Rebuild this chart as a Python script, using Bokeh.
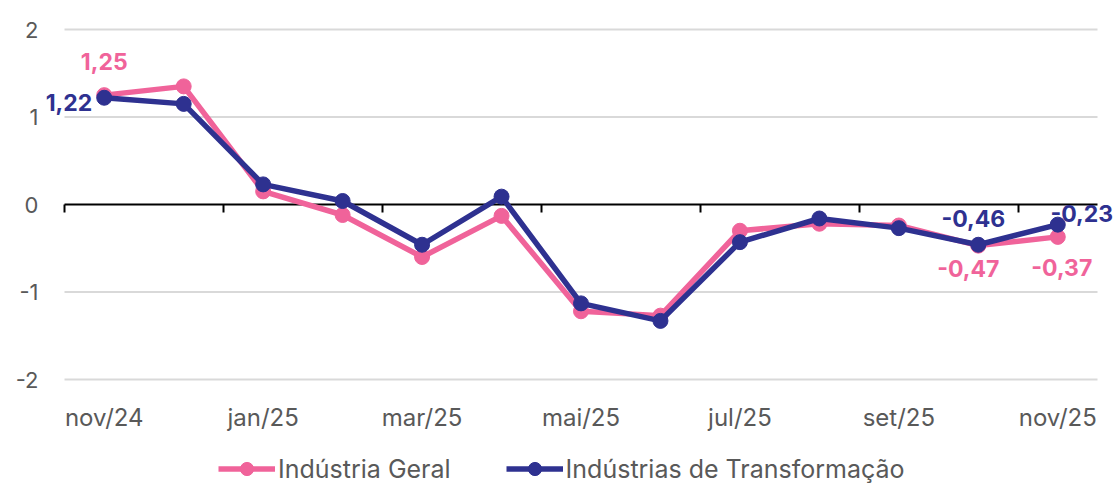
from bokeh.plotting import figure
from bokeh.models import (Range1d, FixedTicker, LinearAxis, Label, Legend, LegendItem)
from bokeh.core.properties import value
from bokeh.embed import file_html
from bokeh.resources import INLINE

months = ["nov/24", "dez/24", "jan/25", "fev/25", "mar/25", "abr/25", "mai/25",
          "jun/25", "jul/25", "ago/25", "set/25", "out/25", "nov/25"]
geral = [1.25, 1.35, 0.15, -0.12, -0.60, -0.13, -1.22, -1.27, -0.30, -0.22, -0.24, -0.47, -0.37]
transf = [1.22, 1.15, 0.23, 0.04, -0.46, 0.09, -1.13, -1.33, -0.43, -0.16, -0.27, -0.46, -0.23]
y_ticks = [-2, -1, 0, 1, 2]
label_idx = [0, 11, 12]

PINK = "#F0639A"
BLUE = "#2E3190"
GRAY = "#595959"
FONT = "Inter"

n = len(months)
xs = [i + 0.5 for i in range(n)]

# frame covers the whole canvas; ranges padded so the category area sits like the reference
x_px = 1033 / n
y_px = 87.5
p = figure(width=1116, height=486,
           x_range=Range1d(-64 / x_px, n + 19 / x_px),
           y_range=Range1d(y_ticks[0] - 107 / y_px, y_ticks[-1] + 29 / y_px),
           output_backend="svg", toolbar_location=None,
           x_axis_location=None, y_axis_location=None,
           min_border=0, min_border_left=0, min_border_right=0,
           min_border_top=0, min_border_bottom=0)
p.outline_line_color = None
p.background_fill_color = "white"
p.border_fill_color = "white"
p.grid.visible = False

# horizontal grid lines across the category area
grid_y = [t for t in y_ticks if t != 0]
p.segment(x0=0, x1=n, y0=grid_y, y1=grid_y, line_color="#D9D9D9", line_width=2, level="underlay")

# y tick labels
p.text(x=0, y=y_ticks, text=[str(t) for t in y_ticks], x_offset=-26,
       text_align="right", text_baseline="middle", text_font=value(FONT),
       text_font_size="22px", text_color=GRAY)

# x axis labels (every other month)
xaxis = LinearAxis(fixed_location=y_ticks[0], ticker=FixedTicker(ticks=[xs[i] for i in range(0, n, 2)]),
                   major_label_overrides={xs[i]: months[i] for i in range(0, n, 2)},
                   axis_line_color=None, major_tick_line_color=None, minor_tick_line_color=None,
                   major_tick_out=0, major_tick_in=0,
                   major_label_text_font=FONT, major_label_text_font_size="24px",
                   major_label_text_color=GRAY, major_label_standoff=23)
p.add_layout(xaxis, "below")

# zero axis with ticks at category boundaries
zero_axis = LinearAxis(fixed_location=0, bounds=(0, n),
                       ticker=FixedTicker(ticks=list(range(0, n, 2))),
                       axis_line_color="black", axis_line_width=2,
                       major_tick_line_color="black", major_tick_line_width=2,
                       major_tick_in=0, major_tick_out=8,
                       minor_tick_line_color=None,
                       major_label_text_color=None, level="underlay")
p.add_layout(zero_axis, "below")

l1 = p.line(xs, geral, line_color=PINK, line_width=5.5)
s1 = p.scatter(xs, geral, size=15, fill_color=PINK, line_color=PINK)
l2 = p.line(xs, transf, line_color=BLUE, line_width=5.5)
s2 = p.scatter(xs, transf, size=15, fill_color=BLUE, line_color=BLUE)

def fmt(v):
    return f"{v:.2f}".replace(".", ",")

# label styles: (align, x offset px, y offset px)
geral_style = {0: ("center", 0, 34), 11: ("center", -10, -23), 12: ("center", 4, -31)}
transf_style = {0: ("right", -12, -5), 11: ("center", -5, 26), 12: ("center", 24, 11)}

for i in label_idx:
    a, dx, dy = geral_style[i]
    p.add_layout(Label(x=xs[i], y=geral[i], text=fmt(geral[i]), x_offset=dx, y_offset=dy,
                       text_align=a, text_baseline="middle", text_font=FONT,
                       text_font_style="bold", text_font_size="23px", text_color=PINK))
    a, dx, dy = transf_style[i]
    p.add_layout(Label(x=xs[i], y=transf[i], text=fmt(transf[i]), x_offset=dx, y_offset=dy,
                       text_align=a, text_baseline="middle", text_font=FONT,
                       text_font_style="bold", text_font_size="23px", text_color=BLUE))

legend = Legend(items=[LegendItem(label="Indústria Geral", renderers=[l1, s1]),
                       LegendItem(label="Indústrias de Transformação", renderers=[l2, s2])],
                orientation="horizontal", location=(218, 1),
                label_text_font=FONT, label_text_font_size="25px", label_text_color=GRAY,
                glyph_width=57, glyph_height=33, label_standoff=3, spacing=55,
                border_line_color=None, background_fill_alpha=0, padding=0, margin=0)
p.add_layout(legend, "center")

open("out.html", "w").write(file_html(p, INLINE))
